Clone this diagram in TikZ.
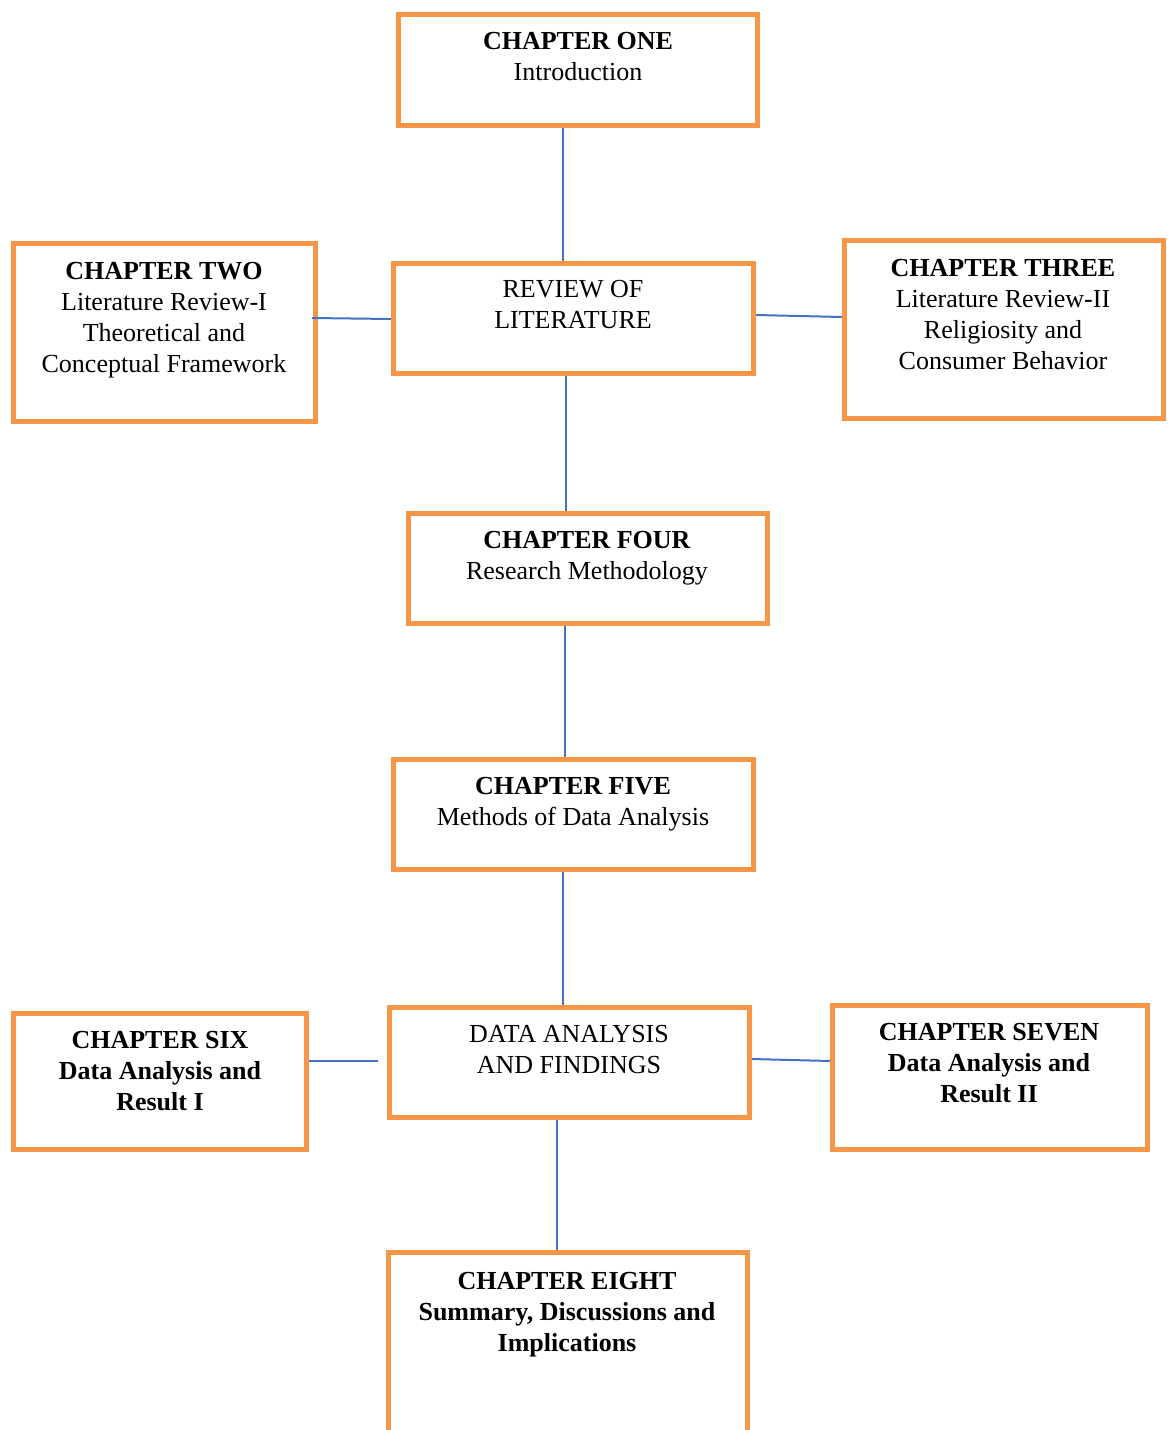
\documentclass[tikz,border=0pt]{standalone}
\usepackage{fontspec}
\setmainfont{Liberation Serif}
\usetikzlibrary{fit}
\definecolor{boxorange}{HTML}{F79646}
\definecolor{lineblue}{HTML}{4472C4}

\begin{document}
\begin{tikzpicture}[x=0.5pt, y=-0.5pt,
    chbox/.style={draw=boxorange, line width=2.5pt, inner sep=0pt},
    chtext/.style={anchor=north, align=center, inner sep=0pt,
        font=\fontsize{13}{15.5}\selectfont},
    link/.style={draw=lineblue, line width=1pt}]
    \useasboundingbox (0,0) rectangle (1169,1430);
    \clip (0,0) rectangle (1169,1430);

    % Draw the chapter boxes
    \node[chbox, fit={(398.5,14.5) (757.5,125.5)}] (one) {};
    \node[chbox, fit={(393.5,263.5) (753.5,373.5)}] (review) {};
    \node[chbox, fit={(13.5,243.5) (315.5,421.5)}] (two) {};
    \node[chbox, fit={(844.5,240.5) (1163.5,418.5)}] (three) {};
    \node[chbox, fit={(408.5,513.5) (767.5,623.5)}] (four) {};
    \node[chbox, fit={(393.5,759.5) (753.5,869.5)}] (five) {};
    \node[chbox, fit={(389.5,1007.5) (749.5,1117.5)}] (data) {};
    \node[chbox, fit={(13.5,1013.5) (306.5,1149.5)}] (six) {};
    \node[chbox, fit={(832.5,1005.5) (1147.5,1149.5)}] (seven) {};
    \node[chbox, fit={(388.5,1252.5) (747.5,1460)}] (eight) {};

    % Texts
    \node[chtext] (onetext) at (578,32) {\textbf{CHAPTER ONE}\\Introduction};
    \node[chtext] (reviewtext) at (573,280) {REVIEW OF\\LITERATURE};
    \node[chtext] (twotext) at (164,262) {\textbf{CHAPTER TWO}\\Literature Review-I\\Theoretical and\\Conceptual Framework};
    \node[chtext] (threetext) at (1003,259) {\textbf{CHAPTER THREE}\\Literature Review-II\\Religiosity and\\Consumer Behavior};
    \node[chtext] (fourtext) at (587,531) {\textbf{CHAPTER FOUR}\\Research Methodology};
    \node[chtext] (fivetext) at (573,777) {\textbf{CHAPTER FIVE}\\Methods of Data Analysis};
    \node[chtext] (datatext) at (569,1025) {DATA ANALYSIS\\AND FINDINGS};
    \node[chtext, font=\bfseries\fontsize{13}{15.5}\selectfont] (sixtext) at (160,1031) {CHAPTER SIX\\Data Analysis and\\Result I};
    \node[chtext, font=\bfseries\fontsize{13}{15.5}\selectfont] (seventext) at (989,1023) {CHAPTER SEVEN\\Data Analysis and\\Result II};
    \node[chtext, font=\bfseries\fontsize{13}{15.5}\selectfont] (eighttext) at (567,1272) {CHAPTER EIGHT\\Summary, Discussions and\\Implications};

    % Draw the vertical links
    \draw[link] (one.south -| 563,0) -- (review.north -| 563,0);
    \draw[link] (review.south -| 566,0) -- (four.north -| 566,0);
    \draw[link] (four.south -| 565,0) -- (five.north -| 565,0);
    \draw[link] (five.south -| 563,0) -- (data.north -| 563,0);
    \draw[link] (data.south -| 557,0) -- (eight.north -| 557,0);

    % Draw the side links
    \draw[link] ([xshift=-3pt]two.east |- 0,318) -- (review.west |- 0,319);
    \draw[link] (review.east |- 0,315) -- (three.west |- 0,317);
    \draw[link] (six.east |- 0,1061) -- ([xshift=-4.75pt]data.west |- 0,1061);
    \draw[link] (data.east |- 0,1059) -- (seven.west |- 0,1061);
\end{tikzpicture}
\end{document}
